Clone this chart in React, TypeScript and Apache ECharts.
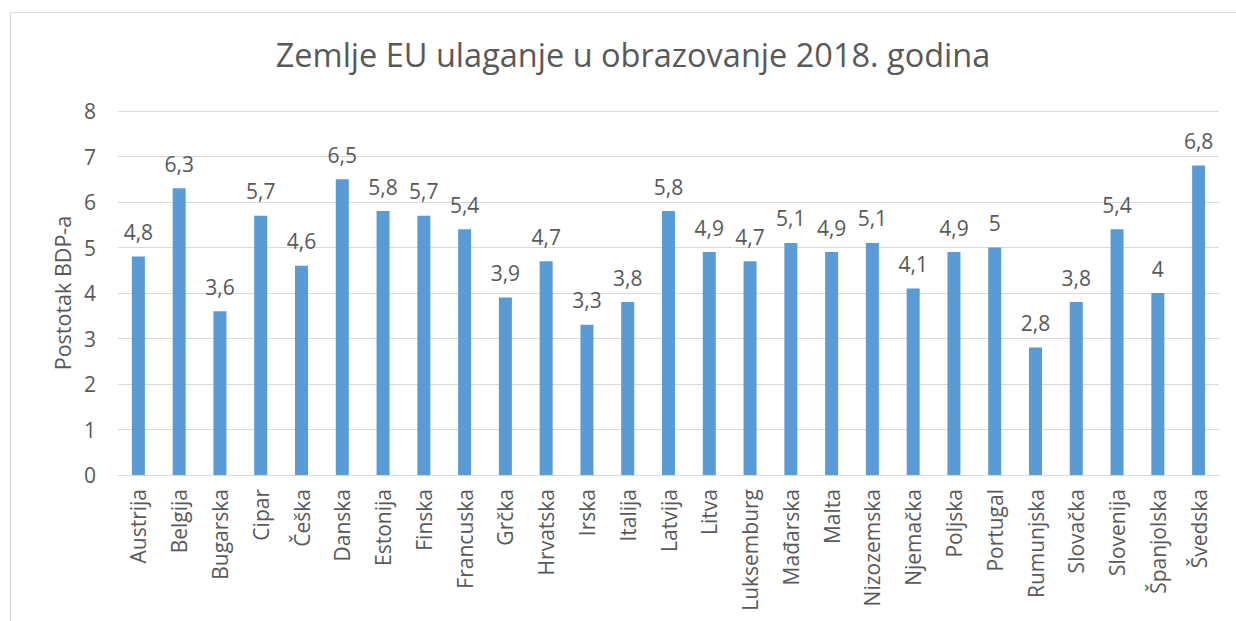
import React, { useEffect, useRef } from "react";
import * as echarts from "echarts";

const categories = [
  "Austrija", "Belgija", "Bugarska", "Cipar", "Češka", "Danska", "Estonija", "Finska",
  "Francuska", "Grčka", "Hrvatska", "Irska", "Italija", "Latvija", "Litva", "Luksemburg",
  "Mađarska", "Malta", "Nizozemska", "Njemačka", "Poljska", "Portugal", "Rumunjska",
  "Slovačka", "Slovenija", "Španjolska", "Švedska",
];
const values = [
  4.8, 6.3, 3.6, 5.7, 4.6, 6.5, 5.8, 5.7, 5.4, 3.9, 4.7, 3.3, 3.8, 5.8, 4.9, 4.7,
  5.1, 4.9, 5.1, 4.1, 4.9, 5, 2.8, 3.8, 5.4, 4, 6.8,
];
const titleText = "Zemlje EU ulaganje u obrazovanje 2018. godina";
const yAxisName = "Postotak BDP-a";

const FONT = "'Open Sans', sans-serif";
const TEXT = "#595959";

export default function App() {
  const ref = useRef<HTMLDivElement>(null);
  useEffect(() => {
    if (!ref.current) return;
    const chart = echarts.init(ref.current, null, { renderer: "svg" });
    chart.setOption({
      animation: false,
      backgroundColor: "#ffffff",
      title: {
        text: titleText,
        left: 628,
        top: 33,
        textAlign: "center",
        textStyle: { fontFamily: FONT, fontSize: 32.5, fontWeight: "normal", color: TEXT },
      },
      graphic: [
        {
          type: "rect",
          shape: { x: 10.5, y: 12.5, width: 1300, height: 700 },
          style: { fill: "none", stroke: "#D9D9D9", lineWidth: 1 },
          silent: true,
        },
      ],
      grid: { left: 118, right: 17, top: 111, bottom: 146 },
      xAxis: {
        type: "category",
        data: categories,
        axisLine: { show: true, lineStyle: { color: "#D9D9D9", width: 1 } },
        axisTick: { show: false },
        axisLabel: {
          rotate: 90,
          interval: 0,
          margin: 14,
          fontFamily: FONT,
          fontSize: 21,
          color: TEXT,
        },
      },
      yAxis: {
        type: "value",
        min: 0,
        max: 8,
        interval: 1,
        name: yAxisName,
        nameLocation: "middle",
        nameGap: 45,
        nameTextStyle: { fontFamily: FONT, fontSize: 21.5, color: TEXT },
        axisLine: { show: false },
        axisTick: { show: false },
        axisLabel: { fontFamily: FONT, fontSize: 21, color: TEXT, margin: 22 },
        splitLine: { lineStyle: { color: "#D9D9D9", width: 1 } },
      },
      series: [
        {
          type: "bar",
          data: values,
          barWidth: 13,
          itemStyle: { color: "#5B9BD5" },
          label: {
            show: true,
            position: "top",
            distance: 14,
            fontFamily: FONT,
            fontSize: 21,
            color: TEXT,
            formatter: (p: any) => String(p.value).replace(".", ","),
          },
        },
      ],
    });
    return () => chart.dispose();
  }, []);
  return (
    <div
      ref={ref}
      style={{ position: "fixed", left: 0, top: 0, width: 1236, height: 621 }}
    />
  );
}
